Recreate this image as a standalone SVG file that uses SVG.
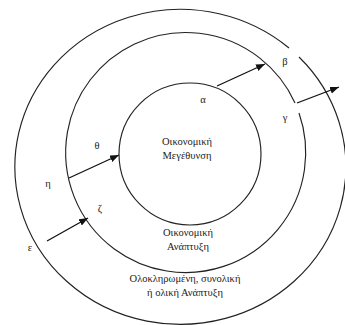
<svg xmlns="http://www.w3.org/2000/svg" width="345" height="325" viewBox="0 0 345 325">
<style>
.ring{fill:none;stroke:#222;stroke-width:1.15}
.lbl{font-family:"Liberation Serif","Times New Roman",serif;font-size:10.5px;fill:#222;text-anchor:middle}
.gk{font-family:"Liberation Serif","Times New Roman",serif;font-size:10.5px;fill:#222;text-anchor:middle}
.arr{stroke:#111;stroke-width:1.3;fill:none;marker-end:url(#ah)}
</style>
<defs>
<marker id="ah" markerUnits="userSpaceOnUse" markerWidth="10" markerHeight="8" refX="9" refY="3.5" orient="auto">
<path d="M0,0 L9,3.5 L0,7 z" fill="#111"/>
</marker>
</defs>
<rect width="345" height="325" fill="#fff"/>
<g id="outer">
<path class="ring" d="M299,57 A165.5,157.5 0 1 1 289,48"/>
<text class="lbl" x="185" y="282">Ολοκληρωμένη, συνολική</text>
<text class="lbl" x="185" y="296">ή ολική Ανάπτυξη</text>
</g>
<g id="middle">
<path class="ring" d="M299,113 A120,120 0 1 1 295,103"/>
<text class="lbl" x="188" y="236">Οικονομική</text>
<text class="lbl" x="188" y="250">Ανάπτυξη</text>
</g>
<g id="inner">
<circle class="ring" cx="190" cy="154" r="71"/>
<text class="lbl" x="187" y="145">Οικονομική</text>
<text class="lbl" x="187" y="159">Μεγέθυνση</text>
</g>
<g id="connectors">
<line class="arr" x1="217" y1="86" x2="265" y2="64"/>
<line class="arr" x1="297" y1="103" x2="339" y2="87"/>
<line class="arr" x1="69" y1="178" x2="119" y2="155"/>
<line class="arr" x1="47" y1="241" x2="88" y2="218"/>
</g>
<g id="labels">
<text class="gk" x="203" y="103">α</text>
<text class="gk" x="285" y="65">β</text>
<text class="gk" x="285" y="121">γ</text>
<text class="gk" x="30" y="251">ε</text>
<text class="gk" x="100" y="212">ζ</text>
<text class="gk" x="48" y="187">η</text>
<text class="gk" x="97" y="149">θ</text>
</g>
</svg>
